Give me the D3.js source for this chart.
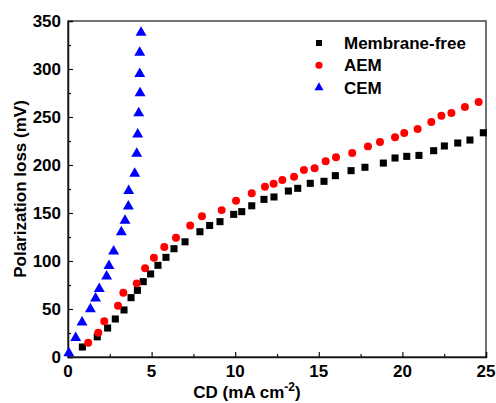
<!DOCTYPE html>
<html><head><meta charset="utf-8">
<script src="https://cdn.jsdelivr.net/npm/d3@7"></script>
<style>body{margin:0;background:#fff}svg{display:block}text{font-family:"Liberation Sans",Arial,sans-serif;font-weight:bold}</style>
</head><body>
<svg id="c" width="496" height="403"></svg>
<script>
const seriesNames = ["Membrane-free","AEM","CEM"];
const seriesColors = ["#000000","#ff0000","#0000ff"];
const freeX = [0.86,1.75,2.37,2.83,3.35,3.77,4.15,4.5,4.94,5.38,5.86,6.34,7.0,7.89,8.47,9.09,9.91,10.39,10.99,11.72,12.32,13.18,13.74,14.49,15.31,15.99,16.93,17.76,18.86,19.56,20.26,20.99,21.87,22.51,23.31,24.04,24.84];
const freeY = [10.4,21,30.2,39.6,49,61.8,69.4,78.5,86.5,95.5,103.8,112.8,120,130.5,137,141,148.6,151.4,157.5,164.2,166.7,172.9,175.7,180.9,183,188.9,194.1,197.6,202,207.3,209,210,214.9,219.8,222.9,226,233.6];
const aemX = [1.21,1.81,2.17,2.99,3.31,4.11,4.61,5.14,5.76,6.46,7.31,8.01,9.19,10.05,10.99,11.78,12.3,12.82,13.52,14.11,14.75,15.41,16.03,17.0,17.94,18.66,19.56,20.11,20.91,21.73,22.33,22.93,23.74,24.56];
const aemY = [14.9,25.3,37.2,53.5,67,76.7,92.4,103.5,114.6,124.3,137,146.5,153,162.8,170.5,177.4,180.5,184.4,187.8,194.8,196.5,204,208,212.5,219.4,224,229,233.3,237.5,244.8,251.4,254.2,260.4,265.6];
const cemX = [0.05,0.46,0.84,1.34,1.65,1.87,2.31,2.45,2.73,3.19,3.41,3.61,3.63,3.99,4.11,4.17,4.23,4.31,4.29,4.29,4.37];
const cemY = [4,20,36,50,61,71,84,95,110,130,142,157,173,191,212,232,254,275,295,317,338];
const xTicks = [0,5,10,15,20,25];
const yTicks = [0,50,100,150,200,250,300,350];
const xTitle = "CD (mA cm";
const xTitleSup = "-2";
const yTitle = "Polarization loss (mV)";

const svg = d3.select("#c");
const L=68,R=486,T=21,B=357;
const x = d3.scaleLinear().domain([0,25]).range([L,R]);
const y = d3.scaleLinear().domain([0,350]).range([B,T]);

// frame
svg.append("rect").attr("x",L).attr("y",T).attr("width",R-L).attr("height",B-T)
  .attr("fill","none").attr("stroke","#444").attr("stroke-width",1.5);

// axes with inward ticks
const xAx = svg.append("g").attr("transform",`translate(0,${B})`)
  .call(d3.axisBottom(x).tickValues(d3.range(0,25.01,2.5)).tickSize(-5).tickFormat(""));
xAx.selectAll(".tick line").attr("y2",(d)=> d%5===0?-5:-3).attr("stroke","#111").attr("stroke-width",1.2);
xAx.select(".domain").attr("stroke","#111").attr("stroke-width",1.5);
const yAx = svg.append("g").attr("transform",`translate(${L},0)`)
  .call(d3.axisLeft(y).tickValues(d3.range(0,350.1,25)).tickSize(-5).tickFormat(""));
yAx.selectAll(".tick line").attr("x2",(d)=> d%50===0?5:3).attr("stroke","#111").attr("stroke-width",1.2);
yAx.select(".domain").attr("stroke","#111").attr("stroke-width",1.5);

// tick labels
svg.append("g").selectAll("text").data(xTicks).join("text")
  .attr("x",d=>x(d)).attr("y",B+20).attr("text-anchor","middle")
  .attr("font-size",17).text(d=>d);
svg.append("g").selectAll("text").data(yTicks).join("text")
  .attr("x",L-7).attr("y",d=>y(d)).attr("dy","0.36em").attr("text-anchor","end")
  .attr("font-size",17).text(d=>d);

// titles
const xt = svg.append("text").attr("x",(L+R)/2-30).attr("y",398).attr("text-anchor","middle").attr("font-size",17);
xt.append("tspan").text(xTitle);
xt.append("tspan").attr("dy",-7).attr("font-size",12).text(xTitleSup);
xt.append("tspan").attr("dy",7).text(")");
svg.append("text").attr("transform",`translate(26,${(T+B)/2}) rotate(-90)`)
  .attr("text-anchor","middle").attr("font-size",17).text(yTitle);

// marks
const sq = d3.symbol().type(d3.symbolSquare).size(50);
const ci = d3.symbol().type(d3.symbolCircle).size(50);
const tr = d3.symbol().type(d3.symbolTriangle).size(52);
const g = svg.append("g");
g.selectAll(".f").data(d3.zip(freeX,freeY)).join("path").attr("d",sq)
  .attr("transform",d=>`translate(${x(d[0])},${y(d[1])})`).attr("fill",seriesColors[0]);
g.selectAll(".a").data(d3.zip(aemX,aemY)).join("path").attr("d",ci)
  .attr("transform",d=>`translate(${x(d[0])},${y(d[1])})`).attr("fill",seriesColors[1]);
g.selectAll(".c").data(d3.zip(cemX,cemY)).join("path").attr("d",tr)
  .attr("transform",d=>`translate(${x(d[0])},${y(d[1])})`).attr("fill",seriesColors[2]);

// legend
const syms=[d3.symbol().type(d3.symbolSquare).size(36),d3.symbol().type(d3.symbolCircle).size(40),d3.symbol().type(d3.symbolTriangle).size(36)];
const lg = svg.append("g");
seriesNames.forEach((n,i)=>{
  const yy = 43 + i*22.3;
  lg.append("path").attr("d",syms[i]).attr("transform",`translate(319,${yy})`).attr("fill",seriesColors[i]);
  lg.append("text").attr("x",344).attr("y",yy).attr("dy","0.36em").attr("font-size",17).text(n);
});
</script>
</body></html>
